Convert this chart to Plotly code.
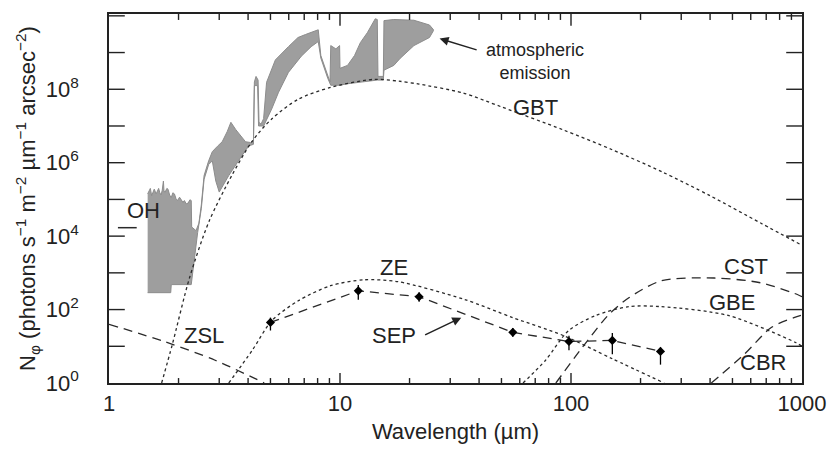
import numpy as np
import plotly.graph_objects as go

# ---------------- data (wavelength in µm; values given as log10 of N_phi) ----------------
# atmospheric emission envelope (upper / lower edges of the grey band)
atm_up_x = [1.47, 1.49, 1.51, 1.53, 1.55, 1.57, 1.60, 1.62, 1.64, 1.66, 1.68, 1.70, 1.72, 1.73, 1.75, 1.78,
            1.80, 1.83, 1.86, 1.89, 1.92, 1.95, 1.98, 2.02, 2.05, 2.09, 2.12, 2.16, 2.20, 2.24, 2.27,
            2.28, 2.38, 2.45, 2.51, 2.58, 2.70, 2.80, 2.95, 3.09, 3.25, 3.37, 3.54, 3.75,
            3.90, 4.10, 4.22, 4.26, 4.33, 4.42, 4.46, 4.55, 4.67, 4.81, 5.25, 5.98, 6.58, 7.08, 7.79,
            8.05, 8.26, 8.85, 9.05, 9.12, 9.60, 9.96, 10.0, 10.78, 11.56, 12.25, 13.13, 14.21, 14.50,
            14.6, 15.4, 15.5, 17.1, 20.9, 24.4, 25.4]
atm_up_log = [5.15, 5.25, 5.30, 5.10, 5.22, 5.28, 5.15, 5.26, 5.30, 5.18, 5.12, 5.25, 5.50, 5.22, 5.20, 5.30,
              5.28, 5.12, 5.05, 5.18, 5.15, 5.02, 4.97, 5.06, 5.00, 4.92, 4.97, 4.88, 4.90, 4.99, 4.97,
              4.25, 4.15, 4.35, 4.85, 5.65, 6.05, 6.30, 6.45, 6.57, 6.85, 7.10, 6.90, 6.70,
              6.57, 6.55, 6.60, 8.20, 8.35, 8.25, 7.10, 7.05, 7.20, 8.19, 8.80, 9.16, 9.41, 9.49, 9.60,
              9.62, 8.92, 8.38, 8.20, 9.19, 9.10, 9.19, 8.57, 8.65, 8.92, 9.27, 9.54, 9.92, 9.90,
              8.35, 8.35, 9.87, 9.90, 9.88, 9.75, 9.62]
atm_lo_x = [1.47, 1.85, 1.86, 2.27, 2.33, 2.42, 2.51, 2.58, 2.70, 2.80, 2.90, 3.00, 3.30, 3.76, 4.03,
            4.22, 4.26, 4.40, 4.44, 4.67, 5.06, 5.42, 5.98, 6.80, 7.50, 8.05, 8.26, 8.85, 9.12, 9.96,
            10.78, 12.25, 13.13, 14.5, 15.4, 15.5, 17.1, 18.2, 20.9, 24.4, 25.4]
atm_lo_log = [2.46, 2.46, 2.68, 2.68, 3.30, 4.10, 4.75, 5.55, 5.95, 6.05, 5.50, 5.20, 5.65, 6.19, 6.46,
              6.50, 8.10, 8.10, 7.00, 7.00, 7.46, 7.92, 8.46, 8.90, 9.16, 9.30, 8.85, 8.30, 8.11, 8.11,
              8.15, 8.20, 8.22, 8.25, 8.25, 8.52, 8.65, 8.84, 9.19, 9.41, 9.60]

# GBT (dotted)
gbt_x = [1.69, 1.88, 2.23, 2.71, 3.4, 4.15, 5.06, 6.6, 9.1, 14, 18, 22, 34, 50, 92, 150, 248, 400, 665, 1000]
gbt_log = [0, 1.05, 2.86, 4.4, 5.65, 6.57, 7.19, 7.73, 8.05, 8.27, 8.22, 8.14, 7.9, 7.52, 6.9, 6.36,
           5.75, 5.1, 4.35, 3.75]
# ZE (dotted)
ze_x = [3.3, 4.17, 5.07, 6.6, 9.1, 12.7, 17.8, 34.4, 56, 92, 151, 253]
ze_log = [0, 0.89, 1.7, 2.24, 2.65, 2.81, 2.76, 2.28, 1.78, 1.3, 0.66, 0]
# ZSL (dashed)
zsl_x = [1.0, 1.77, 2.88, 4.7]
zsl_log = [1.6, 1.11, 0.62, 0.0]
# SEP measurements (dashed line through points)
sep_x = [5, 12, 22, 56, 98, 151, 244]
sep_log = [1.65, 2.51, 2.35, 1.38, 1.13, 1.16, 0.86]
sep_err_up = [0.13, 0.16, 0.12, 0.12, 0.16, 0.2, 0.11]
sep_err_dn = [0.22, 0.24, 0.14, 0.12, 0.24, 0.38, 0.36]
# GBE (dotted)
gbe_x = [62, 77.6, 97.7, 128, 178, 245, 479, 933, 1000]
gbe_log = [0, 0.62, 1.43, 1.84, 2.08, 2.08, 1.84, 1.11, 1.0]
# CST (dashed)
cst_x = [86, 112, 146, 178, 245, 417, 660, 955, 1000]
cst_log = [0, 0.97, 1.87, 2.32, 2.78, 2.86, 2.73, 2.41, 2.35]
# CBR (dashed)
cbr_x = [405, 562, 736, 923, 1000]
cbr_log = [0, 0.78, 1.51, 1.78, 1.85]
# OH marker
oh_mark_x = [1.093, 1.318]
oh_mark_log = [4.23, 4.23]

x_tickvals = [1, 10, 100, 1000]
x_ticktext = ["1", "10", "100", "1000"]
x_minor_vals = [m * d for d in (1, 10, 100) for m in range(2, 10)]
y_tickvals = [1e0, 1e2, 1e4, 1e6, 1e8]
y_ticktext = ["10<sup>0</sup>", "10<sup>2</sup>", "10<sup>4</sup>", "10<sup>6</sup>", "10<sup>8</sup>"]
y_all_ticks = [10.0 ** k for k in range(1, 11)]

X_RANGE = [0, 3]
Y_RANGE = [0, 10.05]
W, H = 838, 452
MARGIN = dict(l=109, r=27, t=14, b=65)
PW = W - MARGIN["l"] - MARGIN["r"]
PH = H - MARGIN["t"] - MARGIN["b"]


def lin(v):
    return [10 ** a for a in v]


FONT = "Liberation Sans, Arial, sans-serif"
LINE = "#2a2a2a"
TICK = "#222222"
fig = go.Figure()

# atmospheric emission band
poly_x = atm_up_x + atm_lo_x[::-1]
poly_y = lin(atm_up_log) + lin(atm_lo_log)[::-1]
fig.add_trace(go.Scatter(x=poly_x, y=poly_y, mode="lines", fill="toself",
                         fillcolor="rgb(158,158,158)", line=dict(color="rgb(140,140,140)", width=1),
                         hoverinfo="skip"))

dot = dict(color=LINE, width=1.3, dash="dot")
dash = dict(color=LINE, width=1.3, dash="9px,6px")
for xs, ys, st in [(gbt_x, gbt_log, dot), (ze_x, ze_log, dot), (gbe_x, gbe_log, dot),
                   (zsl_x, zsl_log, dash), (cst_x, cst_log, dash), (cbr_x, cbr_log, dash)]:
    fig.add_trace(go.Scatter(x=xs, y=lin(ys), mode="lines", line=dict(shape="spline", smoothing=0.8, **st)))

sep_y = lin(sep_log)
fig.add_trace(go.Scatter(
    x=sep_x, y=sep_y, mode="lines+markers",
    line=dash,
    marker=dict(symbol="diamond", size=7, color="black"),
    error_y=dict(type="data", symmetric=False,
                 array=[y * (10 ** u - 1) for y, u in zip(sep_y, sep_err_up)],
                 arrayminus=[y * (1 - 10 ** -d) for y, d in zip(sep_y, sep_err_dn)],
                 color="black", thickness=1.3, width=0)))

fig.add_trace(go.Scatter(x=oh_mark_x, y=lin(oh_mark_log), mode="lines",
                         line=dict(color=LINE, width=1.5)))

# labels (positions in log10 axis units)
labels = [("GBT", 1.847, 7.49), ("ZE", 1.234, 3.15), ("SEP", 1.234, 1.29), ("ZSL", 0.411, 1.29),
          ("CST", 2.759, 3.18), ("GBE", 2.695, 2.18), ("CBR", 2.832, 0.57), ("OH", 0.15, 4.69)]
for t, lx, ly in labels:
    fig.add_annotation(x=lx, y=ly, text=t, showarrow=False, font=dict(size=22, color="#222", family=FONT))
fig.add_annotation(x=1.845, y=8.76, text="atmospheric<br>emission", showarrow=False,
                   font=dict(size=18, color="#222", family=FONT))
# arrows
fig.add_annotation(x=1.431, y=9.38, ax=1.598, ay=9.06, axref="x", ayref="y", text="",
                   showarrow=True, arrowhead=2, arrowsize=1.2, arrowwidth=1.5, arrowcolor="#222")
fig.add_annotation(x=1.525, y=1.78, ax=1.362, ay=1.29, axref="x", ayref="y", text="",
                   showarrow=True, arrowhead=2, arrowsize=1.2, arrowwidth=1.5, arrowcolor="#222")

# inward tick marks on all four sides, drawn as line traces derived from the tick values and axis ranges
dy_per_px = (Y_RANGE[1] - Y_RANGE[0]) / PH
dx_per_px = (X_RANGE[1] - X_RANGE[0]) / PW
tx, ty = [], []
for vals, len_b, len_t in [(x_tickvals[1:-1], 10, 12), (x_minor_vals, 5, 6)]:
    for v in vals:
        tx += [v, v, None, v, v, None]
        ty += [10 ** Y_RANGE[0], 10 ** (Y_RANGE[0] + len_b * dy_per_px), None,
               10 ** Y_RANGE[1], 10 ** (Y_RANGE[1] - len_t * dy_per_px), None]
for v in y_all_ticks:
    tx += [10 ** X_RANGE[0], 10 ** (X_RANGE[0] + 16 * dx_per_px), None,
           10 ** X_RANGE[1], 10 ** (X_RANGE[1] - 16 * dx_per_px), None]
    ty += [v, v, None, v, v, None]
fig.add_trace(go.Scatter(x=tx, y=ty, mode="lines", line=dict(color=TICK, width=1.4),
                         hoverinfo="skip", connectgaps=False))

fig.update_layout(
    width=W, height=H, margin=MARGIN,
    paper_bgcolor="white", plot_bgcolor="white", showlegend=False,
    font=dict(family=FONT, size=22, color="#222"),
    xaxis=dict(type="log", range=X_RANGE, tickmode="array", tickvals=x_tickvals, ticktext=x_ticktext,
               ticks="", showline=True, linecolor=TICK, linewidth=1.5, mirror=True, showgrid=False,
               zeroline=False, tickfont=dict(size=22),
               title=dict(text="Wavelength (µm)", font=dict(size=22), standoff=8)),
    yaxis=dict(type="log", range=Y_RANGE, tickmode="array", tickvals=y_tickvals, ticktext=y_ticktext,
               ticks="", showline=True, linecolor=TICK, linewidth=1.5, mirror=True, showgrid=False,
               zeroline=False, tickfont=dict(size=22), ticklabelstandoff=24,
               title=dict(text="N<sub>φ</sub> (photons s<sup>−1</sup> m<sup>−2</sup> µm<sup>−1</sup> arcsec<sup>−2</sup>)",
                          font=dict(size=22), standoff=4)),
)

fig.write_html("out.html")
